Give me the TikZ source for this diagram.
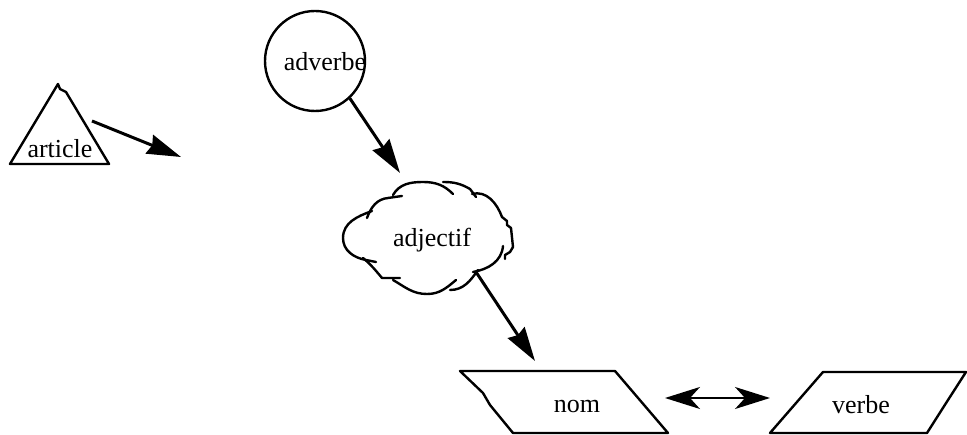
\documentclass[tikz,border=0pt]{standalone}
\usepackage{fontspec}
\setmainfont{Liberation Serif}
\usetikzlibrary{arrows.meta}
\tikzset{
  shapeline/.style={line width=2.4pt, line join=round, line cap=round},
  lbl/.style={inner sep=0pt, font=\fontsize{26}{30}\selectfont},
  mainarrow/.style={line width=3pt, -{Stealth[length=34pt,width=20pt,inset=3pt]}},
  duoarrow/.style={line width=2pt, {Stealth[length=35pt,width=22pt,inset=10pt]}-{Stealth[length=35pt,width=22pt,inset=10pt]}}
}
\begin{document}
\begin{tikzpicture}[x=1pt,y=1pt]
\useasboundingbox (0,0) rectangle (967,-435);
% article triangle
\draw[shapeline] (58,-84) -- (60,-89) -- (66,-92) -- (109,-164) -- (10,-164) -- cycle;
\node[lbl] (art) at (60,-149) {article};
% adverbe circle
\node[circle, draw, line width=2.4pt, minimum size=100pt, inner sep=0pt] (adv) at (315,-61) {};
\node[lbl] (advtext) at (325,-62) {adverbe};
% adjectif cloud
\draw[shapeline] (372,-211) to[out=200,in=90] (343,-238) to[out=270,in=170] (366,-260) -- (376,-262);
\draw[shapeline] (367,-218) to[out=70,in=185] (388,-198) -- (402,-196);
\draw[shapeline] (393,-195) to[out=60,in=180] (423,-182) to[out=0,in=135] (453,-194);
\draw[shapeline] (443,-182) to[out=0,in=150] (470,-189) -- (476,-197);
\draw[shapeline] (472,-194) to[out=15,in=110] (502,-217) -- (507,-221) -- (507,-225) -- (511,-228) -- (513,-247) -- (510,-252) -- (505,-255) -- (505,-259);
\draw[shapeline] (503,-246) to[out=-95,in=10] (473,-272);
\draw[shapeline] (478,-270) to[out=-125,in=0] (450,-290);
\draw[shapeline] (456,-280) to[out=-140,in=0] (427,-294) to[out=180,in=-30] (393,-280);
\draw[shapeline] (400,-278) -- (382,-278) to[out=130,in=-40] (363,-258);
\node[lbl] (adj) at (432,-240) {adjectif};
% nom parallelogram
\draw[shapeline] (460,-371) -- (615,-371) -- (668,-433) -- (513,-433) -- (490,-405) -- (483,-393) -- cycle;
\node[lbl] (nom) at (577,-407) {nom};
% verbe parallelogram
\draw[shapeline] (770,-433) -- (823,-372) -- (966,-372) -- (948,-400) -- (927,-433) -- cycle;
\node[lbl] (verbe) at (861,-405) {verbe};
% connector end points
\coordinate (artout) at (92,-121);
\coordinate (artend) at (181,-157);
\coordinate (advend) at (400,-173);
\coordinate (adjout) at (476,-272);
\coordinate (nomin) at (535,-361);
\coordinate (nomright) at (665,-398);
\coordinate (verbeleft) at (770,-398);
% connectors
\draw[mainarrow] (artout) -- (artend);
\draw[mainarrow] (adv.-47) -- (advend);
\draw[mainarrow] (adjout) -- (nomin);
\draw[duoarrow] (nomright) -- (verbeleft);
\end{tikzpicture}
\end{document}
